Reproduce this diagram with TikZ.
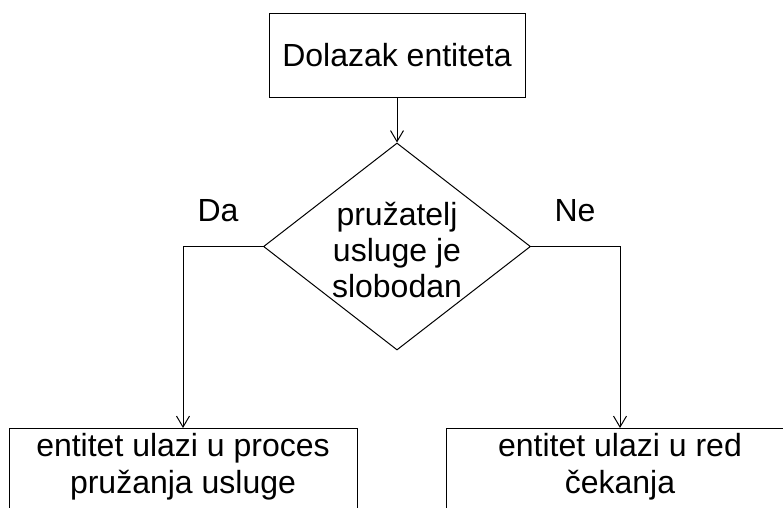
\documentclass[tikz,border=0pt]{standalone}
\usepackage{fontspec}
\setmainfont{Liberation Sans}
\usetikzlibrary{shapes.geometric,arrows.meta}
\tikzset{
  box/.style={draw=black, line width=1pt, rectangle, inner sep=0pt,
    font=\fontsize{32}{37}\selectfont, align=center},
  decision/.style={draw=black, line width=1pt, diamond, inner sep=0pt,
    minimum width=267pt, minimum height=207pt},
  dtext/.style={font=\fontsize{32}{36}\selectfont, align=center, inner sep=0pt},
  lbl/.style={font=\fontsize{32}{37}\selectfont, anchor=base, inner sep=0pt},
  conn/.style={draw=black, line width=1pt, -{Straight Barb[length=11pt,width=13pt,line width=1pt]}},
}
\begin{document}
\begin{tikzpicture}[x=1pt,y=-1pt]
\useasboundingbox (0,0) rectangle (783,507);
\clip (0,0) rectangle (783,507);
\node[box, minimum width=256pt, minimum height=84pt] (top) at (397,55) {Dolazak entiteta};
\node[decision, label={[dtext, yshift=-3pt]center:pružatelj\\ usluge je\\ slobodan}] (d) at (397,246.5) {};
\node[box, anchor=north, minimum width=348pt, inner ysep=5pt, text height=60pt, text depth=30pt] (l) at (183,428)
  {entitet ulazi u proces\\ pružanja usluge};
\node[box, anchor=north, minimum width=348pt, inner ysep=5pt, text height=60pt, text depth=30pt] (r) at (620,428)
  {entitet ulazi u red\\ čekanja};
\node[lbl] (da) at (218,221) {Da};
\node[lbl] (ne) at (575,221) {Ne};
\draw[conn] (top.south) -- (d.north);
\draw[conn] (d.west) -| (l.north);
\draw[conn] (d.east) -| (r.north);
\end{tikzpicture}
\end{document}
